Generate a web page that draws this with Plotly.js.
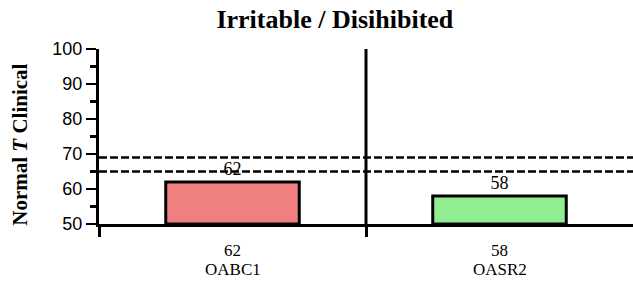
<!DOCTYPE html>
<html>
<head>
<meta charset="utf-8">
<script src="https://cdn.plot.ly/plotly-3.0.1.min.js"></script>
<style>html,body{margin:0;padding:0;background:#fff;}</style>
</head>
<body>
<div id="chart" style="width:633px;height:286px;"></div>
<script>
const categories = ["OABC1", "OASR2"];
const scores = [62, 58];
const barColors = ["#F08080", "#90EE90"];
const cutoffs = [65, 69];
const chartTitle = "Irritable / Disihibited";
const yTickVals = [50, 60, 70, 80, 90, 100];

const BASE = 50;
const serif = "Liberation Serif, Times New Roman, serif";
const sans = "Liberation Sans, Arial, sans-serif";

const trace = {
  type: "bar",
  x: categories.map((c, i) => i),
  y: scores.map(v => v - BASE),
  base: BASE,
  width: 0.5,
  marker: {color: barColors, line: {color: "#000", width: 3}},
  text: scores.map(String),
  textposition: "outside",
  textfont: {family: serif, size: 18, color: "#000"},
  cliponaxis: false,
  hoverinfo: "skip"
};

const shapes = cutoffs.map(c => ({
  type: "line", xref: "paper", x0: 0, x1: 1, yref: "y", y0: c, y1: c,
  line: {color: "#000", width: 2.5, dash: "8px,3px"}
}));
shapes.push({
  type: "line", xref: "x", x0: 0.5, x1: 0.5, yref: "paper", y0: 0, y1: 1,
  line: {color: "#000", width: 3}
});

const annotations = [];
categories.forEach((c, i) => {
  annotations.push({
    x: i, xref: "x", y: 0, yref: "paper", yanchor: "top", xanchor: "center",
    yshift: -15, text: String(scores[i]), showarrow: false,
    font: {family: serif, size: 17, color: "#000"}
  });
  annotations.push({
    x: i, xref: "x", y: 0, yref: "paper", yanchor: "top", xanchor: "center",
    yshift: -34, text: c, showarrow: false,
    font: {family: serif, size: 17, color: "#000"}
  });
});
annotations.push({
  x: -0.1485, xref: "paper", y: 0.451, yref: "paper", xanchor: "center", yanchor: "middle",
  textangle: -90, text: "<b>Normal <i>T</i> Clinical</b>", showarrow: false,
  font: {family: serif, size: 21, color: "#000"}
});

const layout = {
  width: 633, height: 286,
  margin: {l: 99, r: 0, t: 49, b: 62, pad: 0},
  paper_bgcolor: "#fff", plot_bgcolor: "#fff",
  showlegend: false,
  title: {
    text: "<b>" + chartTitle + "</b>",
    font: {family: serif, size: 26, color: "#000"},
    x: 0.529, xref: "container", xanchor: "center",
    y: 0.935, yref: "container", yanchor: "middle"
  },
  xaxis: {
    range: [-0.5, 1.5], tickvals: [-0.5, 0.5], ticktext: ["", ""],
    showticklabels: false, ticks: "outside", ticklen: 10, tickwidth: 3, tickcolor: "#000",
    showline: true, linecolor: "#000", linewidth: 2.5, showgrid: false, zeroline: false,
    fixedrange: true
  },
  yaxis: {
    range: [50, 100], tickvals: yTickVals, ticks: "outside", ticklen: 10, tickwidth: 2.5,
    tickcolor: "#000", showline: true, linecolor: "#000", linewidth: 3,
    showgrid: false, zeroline: false,
    tickfont: {family: sans, size: 18, color: "#000"},
    minor: {dtick: 5, ticks: "outside", ticklen: 6, tickwidth: 2.5, tickcolor: "#000", showgrid: false},
    fixedrange: true
  },
  shapes: shapes,
  annotations: annotations
};

Plotly.newPlot("chart", [trace], layout, {displayModeBar: false, staticPlot: true});
</script>
</body>
</html>
